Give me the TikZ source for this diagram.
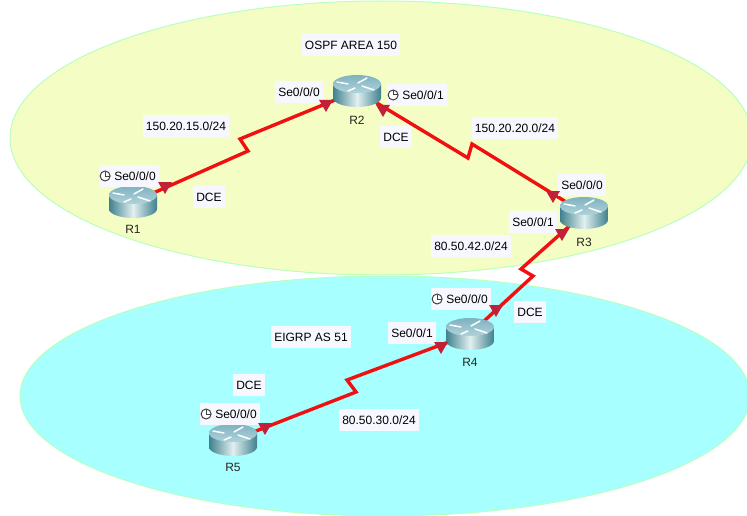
\documentclass[tikz,border=0pt]{standalone}
\usepackage{fontspec}
\setmainfont{Liberation Sans}
\usetikzlibrary{positioning,shapes.geometric,backgrounds}

\definecolor{ospfarea}{HTML}{F4FEC4}
\definecolor{eigrparea}{HTML}{A8FFFF}
\definecolor{areaedge}{HTML}{B8FFC0}
\definecolor{linkred}{HTML}{F01010}
\definecolor{tipred}{HTML}{C02038}
\definecolor{labelfill}{HTML}{F7F8FF}
\definecolor{routerdark}{HTML}{3F808E}
\definecolor{routerlight}{HTML}{E2F0F0}
\definecolor{routertop}{HTML}{7FB2C0}
\definecolor{routertopb}{HTML}{AFD3DB}

\begin{document}
\begin{tikzpicture}[
	x=1pt,y=-1pt,
	area/.style={draw=areaedge,line width=1pt},
	seriallink/.style={draw=linkred,line width=3.4pt,line join=miter},
	porttip/.style={
	  regular polygon,
	  regular polygon sides=3,
	  shape border rotate=180,
	  fill=tipred,
	  minimum size=16pt,
	  inner sep=0pt
	  },
	textbox/.style={
	  fill=labelfill,
	  inner xsep=3pt,
	  inner ysep=0pt,
	  minimum height=22pt,
	  font=\fontsize{12}{14}\selectfont
	  },
	routername/.style={font=\fontsize{12}{14}\selectfont,text=black!85,inner sep=0pt},
	clock/.pic={
	  \draw[black!75,line width=1pt,fill=white] (0,0) circle (5);
	  \draw[black!75,line width=1pt] (0,-4.5) -- (0,0) -- (4.5,0);
	  },
	router/.style={
	  minimum width=48pt,
	  minimum height=32pt,
	  inner sep=0pt,
	  path picture={
	    \begin{scope}[shift={(path picture bounding box.center)}]
	    \shade[left color=routerdark,right color=routerdark,middle color=routerlight]
	      (-24,-7) -- (-24,7) .. controls (-24,12) and (-13,16) .. (0,16)
	      .. controls (13,16) and (24,12) .. (24,7) -- (24,-7) -- cycle;
	    \shade[top color=routertop,bottom color=routertopb]
	      (0,-7) ellipse [x radius=24,y radius=9];
	    \foreach \a/\b/\c/\d in {-20/-9/-9/-7,1/-8/10/-13,-9/0/-2/-3,5/-5/17/-1}
	      \draw[white,line width=1.5pt,line cap=round] (\a,\b) -- (\c,\d);
	    \end{scope}
	  }
	  }
	]
	\clip (0,0) rectangle (747,516);

	% routers
	\node[router] (r1) at (133,202) {};
	\node[router] (r2) at (357,91) {};
	\node[router] (r3) at (584,213) {};
	\node[router] (r4) at (470,334) {};
	\node[router] (r5) at (233,440) {};
	\node[routername,below=7pt of r1] (r1name) {R1};
	\node[routername,below=9pt of r2] (r2name) {R2};
	\node[routername,below=9pt of r3] (r3name) {R3};
	\node[routername,below=8pt of r4] (r4name) {R4};
	\node[routername,below=7pt of r5] (r5name) {R5};

	% zigzags
	\coordinate (z12a) at (248,151);
	\coordinate (z12b) at (240,139);
	\coordinate (z23a) at (468,158);
	\coordinate (z23b) at (472,144);
	\coordinate (z34a) at (533,276);
	\coordinate (z34b) at (521,269);
	\coordinate (z45a) at (347,380);
	\coordinate (z45b) at (356,392);

	\begin{scope}[on background layer]
		\draw[area,fill=ospfarea] (381,138) ellipse [x radius=371,y radius=137];
		\draw[area,fill=eigrparea] (385,396) ellipse [x radius=365,y radius=120];
		\draw[seriallink] (r1.center) -- (z12a) -- (z12b) -- (r2.center);
		\draw[seriallink] (r2.center) -- (z23a) -- (z23b) -- (r3.center);
		\draw[seriallink] (r3.center) -- (z34b) -- (z34a) -- (r4.center);
		\draw[seriallink] (r4.center) -- (z45a) -- (z45b) -- (r5.center);
	\end{scope}

	% area names and networks
	\node[textbox] (ospf) at (351,45) {OSPF AREA 150};
	\node[textbox] (eigrp) at (311,337) {EIGRP AS 51};
	\node[textbox] (net12) at (186,126) {150.20.15.0/24};
	\node[textbox] (net23) at (515,128) {150.20.20.0/24};
	\node[textbox] (net34) at (471,246) {80.50.42.0/24};
	\node[textbox] (net45) at (379,420) {80.50.30.0/24};
	\node[textbox] (dce1) at (209,197) {DCE};
	\node[textbox] (dce2) at (396,137) {DCE};
	\node[textbox] (dce4) at (530,312) {DCE};
	\node[textbox] (dce5) at (249,385) {DCE};

	% interfaces
	\node[textbox] (r1se0) at (129,176) {\hspace*{12pt}Se0/0/0};
	\node[textbox] (r2se0) at (299,92) {Se0/0/0};
	\node[textbox] (r2se1) at (417,95) {\hspace*{12pt}Se0/0/1};
	\node[textbox] (r3se0) at (582,185) {Se0/0/0};
	\node[textbox] (r3se1) at (533,222) {Se0/0/1};
	\node[textbox] (r4se0) at (461,299) {\hspace*{12pt}Se0/0/0};
	\node[textbox] (r4se1) at (412,333) {Se0/0/1};
	\node[textbox] (r5se0) at (230,414) {\hspace*{12pt}Se0/0/0};
	\pic at ([xshift=6pt]r1se0.west) {clock};
	\pic at ([xshift=6pt]r2se1.west) {clock};
	\pic at ([xshift=6pt]r4se0.west) {clock};
	\pic at ([xshift=6pt]r5se0.west) {clock};

	% port marks
	\node[porttip] (tip1) at (165,186) {};
	\node[porttip] (tip2a) at (326,104) {};
	\node[porttip] (tip2b) at (383,109) {};
	\node[porttip] (tip3a) at (553,195) {};
	\node[porttip] (tip3b) at (562,233) {};
	\node[porttip] (tip4a) at (496,309) {};
	\node[porttip] (tip4b) at (441,346) {};
	\node[porttip] (tip5) at (265,427) {};
\end{tikzpicture}
\end{document}
